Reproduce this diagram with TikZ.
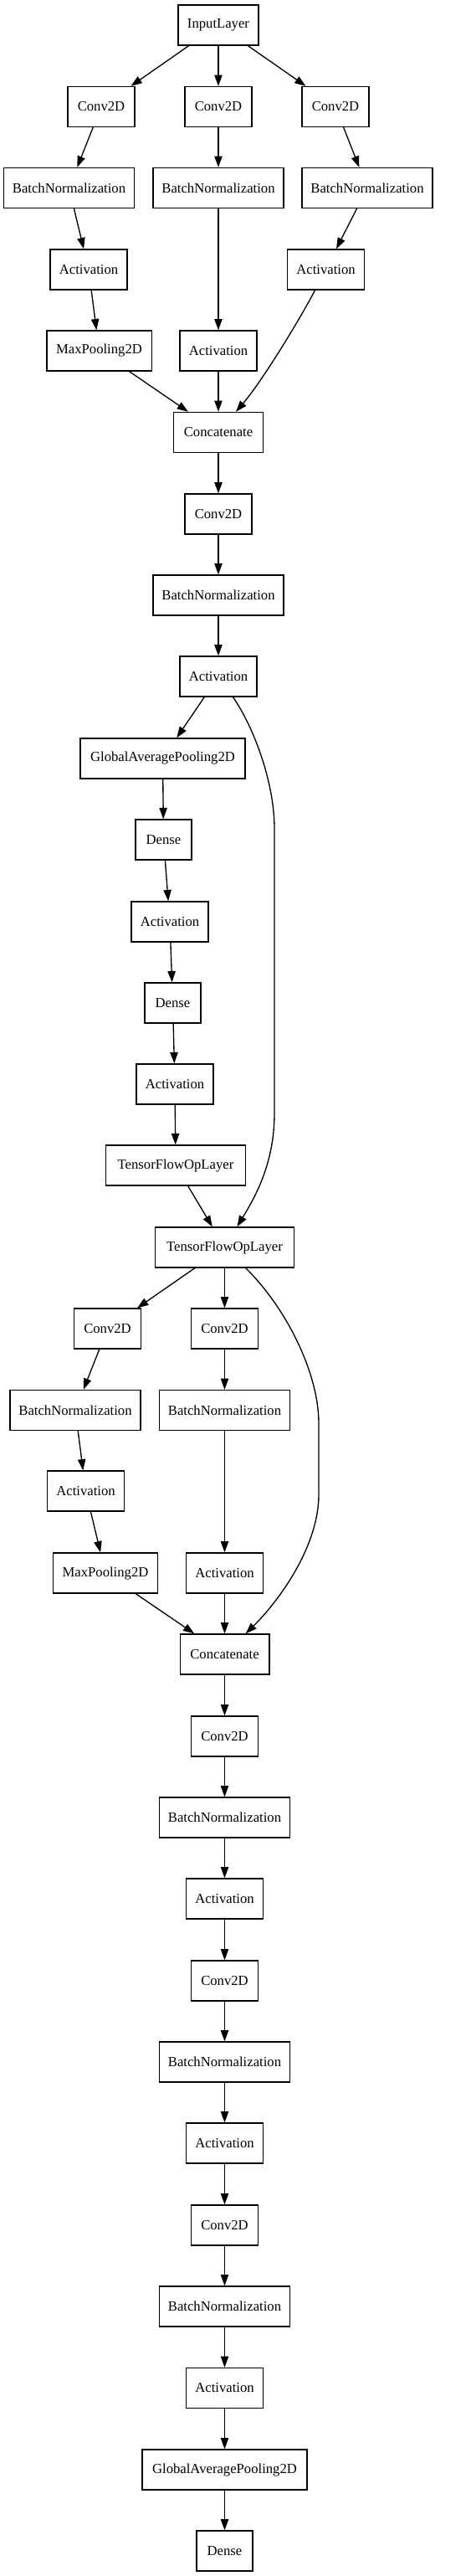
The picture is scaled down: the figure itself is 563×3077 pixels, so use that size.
\documentclass[tikz,border=0pt]{standalone}
\usepackage{fontspec}
\setmainfont{Liberation Serif}
\usetikzlibrary{arrows.meta}
\begin{document}
\begin{tikzpicture}[x=0.75pt,y=-0.75pt,
  box/.style={draw=black, line width=1pt, rectangle, inner sep=0pt, minimum height=36pt, font=\fontsize{12.5}{15}\selectfont},
  inl/.style={box, minimum width=72pt},
  conv/.style={box, minimum width=60pt},
  bnorm/.style={box, minimum width=117pt},
  actv/.style={box, minimum width=68.8pt},
  mpool/.style={box, minimum width=94pt},
  concat/.style={box, minimum width=80pt},
  gapool/.style={box, minimum width=147.8pt},
  dense/.style={box, minimum width=50.3pt},
  tfop/.style={box, minimum width=124.8pt},
  edge/.style={line width=1pt, -{Triangle[length=10pt,width=7pt]}}]
\useasboundingbox (0,0) rectangle (563,3077);
% nodes
\node[inl] (in) at (261,30) {InputLayer};
\node[conv] (c1a) at (121,127.5) {Conv2D};
\node[conv] (c1b) at (261,127.5) {Conv2D};
\node[conv] (c1c) at (401,127.5) {Conv2D};
\node[bnorm] (bn1a) at (82.5,224.5) {BatchNormalization};
\node[bnorm] (bn1b) at (261,224.5) {BatchNormalization};
\node[bnorm] (bn1c) at (439,224.5) {BatchNormalization};
\node[actv] (ac1a) at (106,322) {Activation};
\node[actv] (ac1c) at (389.5,322) {Activation};
\node[mpool] (mp1) at (118.5,419) {MaxPooling2D};
\node[actv] (ac1b) at (261,419) {Activation};
\node[concat] (cat1) at (261,516.5) {Concatenate};
\node[conv] (c2) at (261,614) {Conv2D};
\node[bnorm] (bn2) at (261,711) {BatchNormalization};
\node[actv] (ac2) at (261,808) {Activation};
\node[gapool] (gap1) at (194.5,906) {GlobalAveragePooling2D};
\node[dense] (d1) at (195.5,1003) {Dense};
\node[actv] (ac3) at (203,1101) {Activation};
\node[dense] (d2) at (206.5,1198) {Dense};
\node[actv] (ac4) at (209,1295) {Activation};
\node[tfop] (tf1) at (210,1392) {TensorFlowOpLayer};
\node[tfop] (tf2) at (268.5,1490) {TensorFlowOpLayer};
\node[conv] (c3a) at (128.5,1587) {Conv2D};
\node[conv] (c3b) at (268.5,1587) {Conv2D};
\node[bnorm] (bn3a) at (90,1684.5) {BatchNormalization};
\node[bnorm] (bn3b) at (268.5,1684.5) {BatchNormalization};
\node[actv] (ac5a) at (102.5,1781) {Activation};
\node[mpool] (mp2) at (126,1879) {MaxPooling2D};
\node[actv] (ac5b) at (268.5,1879) {Activation};
\node[concat] (cat2) at (268.5,1976) {Concatenate};
\node[conv] (c4) at (268.5,2074) {Conv2D};
\node[bnorm] (bn4) at (268.5,2171) {BatchNormalization};
\node[actv] (ac6) at (268.5,2268) {Activation};
\node[conv] (c5) at (268.5,2366) {Conv2D};
\node[bnorm] (bn5) at (268.5,2463) {BatchNormalization};
\node[actv] (ac7) at (268.5,2560) {Activation};
\node[conv] (c6) at (268.5,2658) {Conv2D};
\node[bnorm] (bn6) at (268.5,2755) {BatchNormalization};
\node[actv] (ac8) at (268.5,2852.5) {Activation};
\node[gapool] (gap2) at (268.5,2950) {GlobalAveragePooling2D};
\node[dense] (d3) at (268.5,3047) {Dense};
% waypoints for skip connections
\coordinate (k1) at (328,990);
\coordinate (k2) at (328,1330);
\coordinate (k3) at (381,1700);
\coordinate (k4) at (381,1785);
% edges
\draw[edge] (in) -- (c1a);
\draw[edge] (in) -- (c1b);
\draw[edge] (in) -- (c1c);
\draw[edge] (c1a) -- (bn1a);
\draw[edge] (c1b) -- (bn1b);
\draw[edge] (c1c) -- (bn1c);
\draw[edge] (bn1a) -- (ac1a);
\draw[edge] (bn1b) -- (ac1b);
\draw[edge] (bn1c) -- (ac1c);
\draw[edge] (ac1a) -- (mp1);
\draw[edge] (mp1) -- (cat1);
\draw[edge] (ac1b) -- (cat1);
\draw[edge] (ac1c) .. controls (358,382) and (313.5,455) .. (cat1);
\draw[edge] (cat1) -- (c2);
\draw[edge] (c2) -- (bn2);
\draw[edge] (bn2) -- (ac2);
\draw[edge] (ac2) -- (gap1);
\draw[edge] (ac2) .. controls (300,863) and (328,930) .. (k1) -- (k2) .. controls (328,1390) and (304.75,1430) .. (tf2);
\draw[edge] (gap1) -- (d1);
\draw[edge] (d1) -- (ac3);
\draw[edge] (ac3) -- (d2);
\draw[edge] (d2) -- (ac4);
\draw[edge] (ac4) -- (tf1);
\draw[edge] (tf1) -- (tf2);
\draw[edge] (tf2) -- (c3a);
\draw[edge] (tf2) -- (c3b);
\draw[edge] (tf2) .. controls (342,1562) and (381,1640) .. (k3) -- (k4) .. controls (381,1850) and (329.75,1916) .. (cat2);
\draw[edge] (c3a) -- (bn3a);
\draw[edge] (c3b) -- (bn3b);
\draw[edge] (bn3a) -- (ac5a);
\draw[edge] (bn3b) -- (ac5b);
\draw[edge] (ac5a) -- (mp2);
\draw[edge] (mp2) -- (cat2);
\draw[edge] (ac5b) -- (cat2);
\draw[edge] (cat2) -- (c4);
\draw[edge] (c4) -- (bn4);
\draw[edge] (bn4) -- (ac6);
\draw[edge] (ac6) -- (c5);
\draw[edge] (c5) -- (bn5);
\draw[edge] (bn5) -- (ac7);
\draw[edge] (ac7) -- (c6);
\draw[edge] (c6) -- (bn6);
\draw[edge] (bn6) -- (ac8);
\draw[edge] (ac8) -- (gap2);
\draw[edge] (gap2) -- (d3);
\end{tikzpicture}
\end{document}
